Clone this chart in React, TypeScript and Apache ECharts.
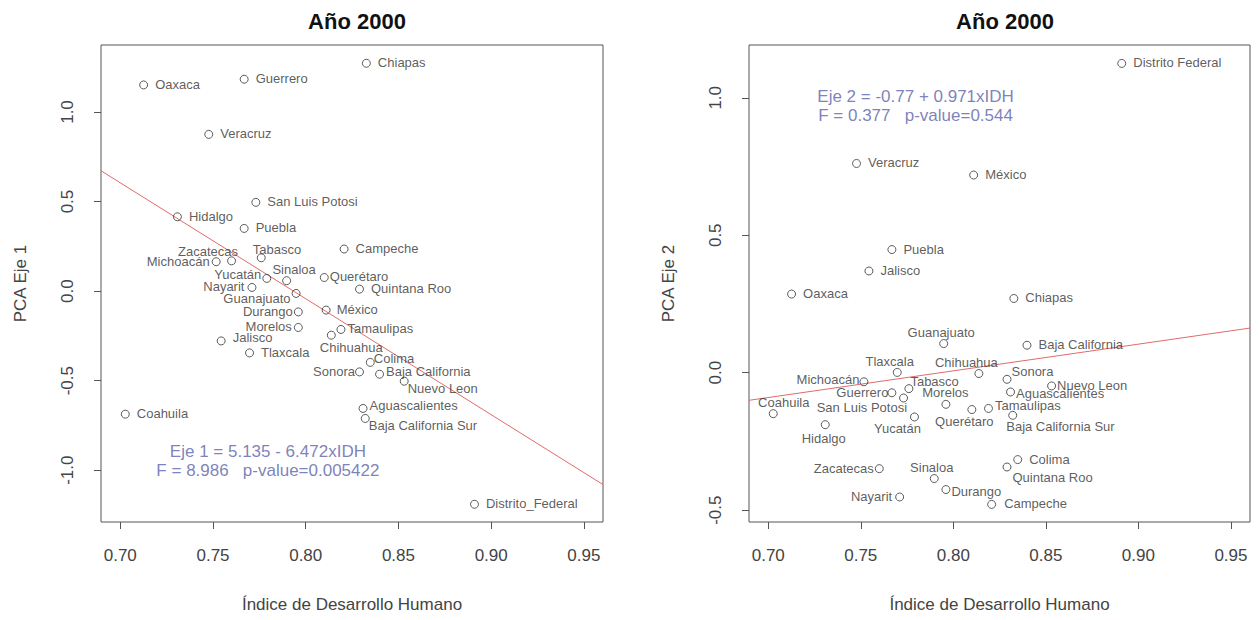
import React, { useEffect, useRef } from "react";
import * as echarts from "echarts";

// ---------- data ----------
const estados = [
  "Aguascalientes", "Baja California", "Baja California Sur", "Campeche", "Chiapas",
  "Chihuahua", "Coahuila", "Colima", "Distrito Federal", "Durango", "Guanajuato",
  "Guerrero", "Hidalgo", "Jalisco", "México", "Michoacán", "Morelos", "Nayarit",
  "Nuevo Leon", "Oaxaca", "Puebla", "Querétaro", "Quintana Roo", "San Luis Potosi",
  "Sinaloa", "Sonora", "Tabasco", "Tamaulipas", "Tlaxcala", "Veracruz", "Yucatán", "Zacatecas",
];
const etiquetasEje1 = estados.map((e) => (e === "Distrito Federal" ? "Distrito_Federal" : e));
const idh = [
  0.8309, 0.8398, 0.8321, 0.8207, 0.8327, 0.8138, 0.7027, 0.8348, 0.891, 0.796, 0.7948,
  0.7668, 0.7308, 0.7544, 0.811, 0.7517, 0.796, 0.771, 0.8531, 0.7126, 0.7668, 0.81,
  0.829, 0.7731, 0.7897, 0.829, 0.776, 0.819, 0.7697, 0.7477, 0.779, 0.76,
];
const eje1 = [
  -0.655, -0.464, -0.711, 0.235, 1.272, -0.246, -0.687, -0.398, -1.19, -0.116, -0.013,
  1.183, 0.415, -0.278, -0.106, 0.164, -0.203, 0.0205, -0.503, 1.151, 0.35, 0.076,
  0.011, 0.4955, 0.058, -0.451, 0.186, -0.214, -0.345, 0.875, 0.071, 0.169,
];
const eje2 = [
  -0.07, 0.1, -0.155, -0.479, 0.27, -0.003, -0.149, -0.316, 1.125, -0.425, 0.106,
  -0.073, -0.189, 0.37, 0.719, -0.033, -0.115, -0.452, -0.048, 0.286, 0.448, -0.134,
  -0.343, -0.092, -0.385, -0.024, -0.058, -0.13, 0.001, 0.761, -0.161, -0.349,
];
const coefEje1 = [5.135, -6.472]; // intercept, slope
const coefEje2 = [-0.77, 0.971];
const textoEje1 = ["Eje 1 = 5.135 - 6.472xIDH", "F = 8.986\u00a0\u00a0\u00a0p-value=0.005422"];
const textoEje2 = ["Eje 2 = -0.77 + 0.971xIDH", "F = 0.377\u00a0\u00a0\u00a0p-value=0.544"];
const xTicks = [0.7, 0.75, 0.8, 0.85, 0.9, 0.95];
const yTicks1 = [-1, -0.5, 0, 0.5, 1];
const yTicks2 = [-0.5, 0, 0.5, 1];

// ---------- layout (label offsets: dx, dy, align) ----------
type Lab = [number, number, string];
const R: Lab = [12, 0, "left"];
const labEje1: Lab[] = [
  [7, -2, "left"], [7, -2, "left"], [4, 8, "left"], R, R,
  [-11, 13, "left"], R, [4, -3, "left"], R, [-5, 0, "right"], [-5, 6, "right"],
  R, R, [12, -3, "left"], [11, 0, "left"], [-6, 0, "right"], [-6, 0, "right"], [-7, 0, "right"],
  [4, 8, "left"], R, R, [6, 0, "left"], R, R,
  [8, -11, "center"], [-4, 0, "right"], [-8, -8, "left"], [7, 0, "left"], R, R, [-5, -3, "right"], [7, -9, "right"],
];
const labEje2: Lab[] = [
  [6, 2, "left"], R, [-6, 12, "left"], [13, 0, "left"], R,
  [-12, -11, "center"], [11, -11, "center"], R, R, [6, 2, "left"], [-2, -11, "center"],
  [-3, 0, "right"], [-1, 14, "center"], R, R, [-4, -2, "right"], [0, -11, "center"], [-7, 0, "right"],
  [6, 0, "left"], R, R, [-7, 12, "center"], [6, 11, "left"], [4, 10, "right"],
  [-2, -11, "center"], [5, -7, "left"], [2, -7, "left"], [7, -2, "left"], [-7, -10, "center"], R, [7, 12, "right"], [-5, 0, "right"],
];
const X_MIN = 0.6896;
const X_MAX = 0.9603;
const FONT = "'Liberation Sans', Arial, Helvetica, sans-serif";
const SYM = 8;

function App() {
  const ref = useRef<HTMLDivElement>(null);
  useEffect(() => {
    document.body.style.margin = "0";
    const chart = echarts.init(ref.current!, null, { renderer: "svg" });

    const xAxisBase = (gridIndex: number) => ({
      type: "value",
      gridIndex,
      min: X_MIN,
      max: X_MAX,
      splitLine: { show: false },
      axisLine: { show: false, onZero: false },
      axisTick: { show: true, length: 7, inside: false, customValues: xTicks, lineStyle: { color: "#555", width: 1 } },
      axisLabel: {
        customValues: xTicks,
        formatter: (v: number) => v.toFixed(2),
        fontSize: 17,
        color: "#444",
        fontFamily: FONT,
        margin: 25,
      },
      name: "Índice de Desarrollo Humano",
      nameLocation: "middle",
      nameGap: 74,
      nameTextStyle: { fontSize: 17, color: "#444", fontFamily: FONT },
    });
    const yAxisBase = (gridIndex: number, min: number, max: number, ticks: number[], name: string) => ({
      type: "value",
      gridIndex,
      min,
      max,
      splitLine: { show: false },
      axisLine: { show: false, onZero: false },
      axisTick: { show: true, length: 7, inside: false, customValues: ticks, lineStyle: { color: "#555", width: 1 } },
      axisLabel: {
        customValues: ticks,
        formatter: (v: number) => v.toFixed(1),
        rotate: 90,
        fontSize: 17,
        color: "#444",
        fontFamily: FONT,
        margin: 25,
      },
      name,
      nameLocation: "middle",
      nameGap: 72,
      nameTextStyle: { fontSize: 17, color: "#444", fontFamily: FONT },
    });

    const pointSeries = (idx: number, ys: number[], labels: string[], labs: Lab[]) => ({
      type: "scatter",
      xAxisIndex: idx,
      yAxisIndex: idx,
      symbol: "circle",
      symbolSize: SYM,
      itemStyle: { color: "rgba(0,0,0,0)", borderColor: "#333", borderWidth: 1 },
      label: { show: true, formatter: "{b}", fontSize: 13, color: "#333", fontFamily: FONT },
      labelLayout: { hideOverlap: false },
      silent: true,
      z: 3,
      data: ys.map((y, i) => ({
        name: labels[i],
        value: [idh[i], y],
        label: {
          position: [SYM / 2 + labs[i][0], SYM / 2 + labs[i][1]],
          align: labs[i][2],
          verticalAlign: "middle",
        },
      })),
    });
    const lineSeries = (idx: number, coef: number[]) => ({
      type: "line",
      xAxisIndex: idx,
      yAxisIndex: idx,
      symbol: "none",
      silent: true,
      z: 2,
      lineStyle: { color: "#E26A6A", width: 1 },
      data: [X_MIN, X_MAX].map((x) => [x, coef[0] + coef[1] * x]),
    });
    const annotSeries = (idx: number, pos: number[], lines: string[]) => ({
      type: "scatter",
      xAxisIndex: idx,
      yAxisIndex: idx,
      symbolSize: 1,
      silent: true,
      itemStyle: { color: "rgba(0,0,0,0)" },
      label: {
        show: true,
        position: [0.5, 0.5],
        align: "center",
        verticalAlign: "middle",
        formatter: lines.join("\n"),
        fontSize: 17,
        lineHeight: 19,
        color: "#5A62A8",
        fontFamily: FONT,
      },
      data: [pos],
    });

    chart.setOption({
      animation: false,
      backgroundColor: "#fff",
      title: [
        { text: "Año 2000", left: 352, top: 5, textAlign: "center", textStyle: { fontSize: 22, fontWeight: "bold", color: "#111", fontFamily: FONT } },
        { text: "Año 2000", left: 1000, top: 5, textAlign: "center", textStyle: { fontSize: 22, fontWeight: "bold", color: "#111", fontFamily: FONT } },
      ],
      grid: [
        { left: 101, top: 45, width: 502, height: 477, show: true, borderColor: "#555", borderWidth: 1, backgroundColor: "transparent" },
        { left: 749, top: 45, width: 501, height: 477, show: true, borderColor: "#555", borderWidth: 1, backgroundColor: "transparent" },
      ],
      xAxis: [xAxisBase(0), xAxisBase(1)],
      yAxis: [
        yAxisBase(0, -1.289, 1.374, yTicks1, "PCA Eje 1"),
        yAxisBase(1, -0.543, 1.192, yTicks2, "PCA Eje 2"),
      ],
      series: [
        lineSeries(0, coefEje1),
        pointSeries(0, eje1, etiquetasEje1, labEje1),
        annotSeries(0, [0.7796, -0.946], textoEje1),
        lineSeries(1, coefEje2),
        pointSeries(1, eje2, estados, labEje2),
        annotSeries(1, [0.7796, 0.9705], textoEje2),
      ],
    });
    return () => chart.dispose();
  }, []);
  return <div ref={ref} style={{ width: 1260, height: 620 }} />;
}

export default App;
